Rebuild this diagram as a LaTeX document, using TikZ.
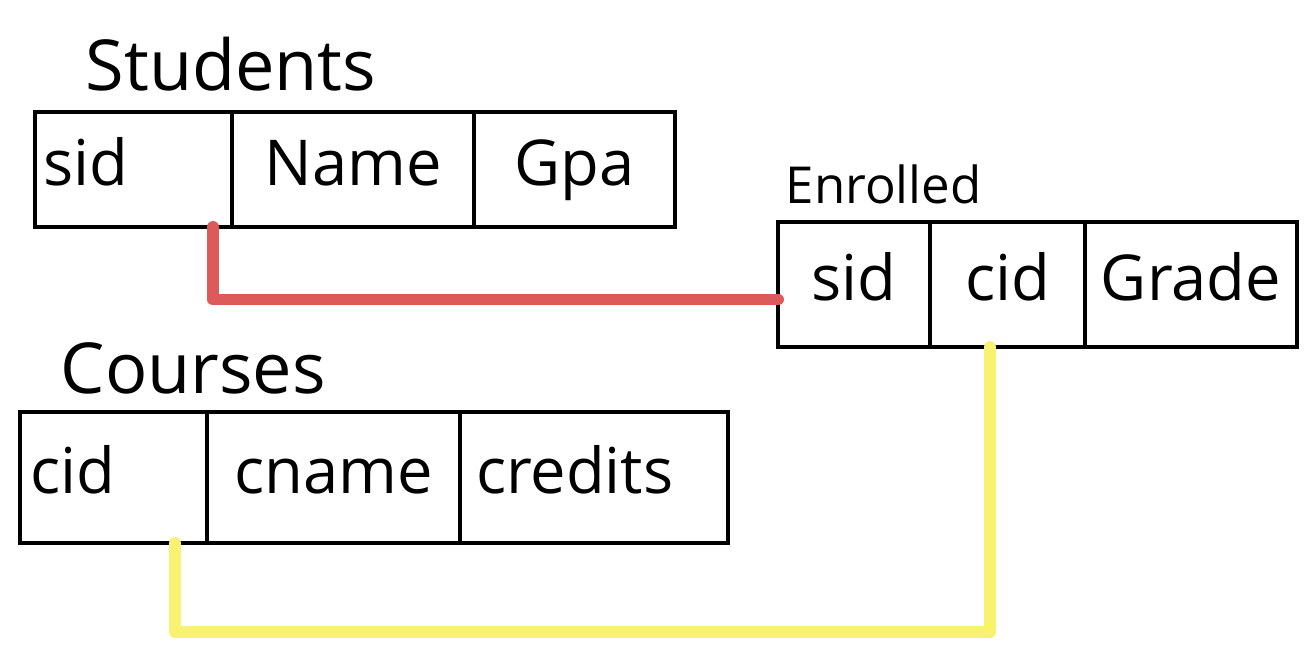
\documentclass[tikz,border=0pt]{standalone}
\usepackage{fontspec}
\setmainfont{Open Sans}
\usetikzlibrary{positioning}
\definecolor{fkred}{HTML}{DD5A5A}
\definecolor{fkyellow}{HTML}{F8F171}

\begin{document}
\begin{tikzpicture}
    [
    node distance=0pt,
    cell/.style={draw, line width=1.2pt, outer sep=0pt, inner sep=0pt,
        text height=2.05ex, text depth=0.3ex, font=\fontsize{18}{20}\selectfont},
    left cell/.style={cell, align=left, text width=#1},
    title/.style={inner sep=0pt, font=\fontsize{20}{22}\selectfont},
    fk red/.style={draw=fkred, line width=3.4pt, line cap=round, line join=round},
    fk yellow/.style={draw=fkyellow, line width=3.4pt, line cap=round, line join=round},
    ]
    \useasboundingbox (0,0) rectangle (13.08,-6.54);

    % Students
    \node[left cell=1.81cm, minimum width=1.97cm, minimum height=1.15cm] (s_sid) at (1.335,-1.695) {sid};
    \node[cell, minimum width=2.42cm, minimum height=1.15cm, right = of s_sid] (s_name) {Name};
    \node[cell, minimum width=2.01cm, minimum height=1.15cm, right = of s_name] (s_gpa) {Gpa};
    \node[title, above right = 0.2cm and 0.5cm of s_sid.north west] (t_students) {Students};

    % Enrolled
    \node[cell, minimum width=1.52cm, minimum height=1.25cm] (e_sid) at (8.54,-2.845) {sid};
    \node[cell, minimum width=1.55cm, minimum height=1.25cm, right = of e_sid] (e_cid) {cid};
    \node[cell, minimum width=2.12cm, minimum height=1.25cm, right = of e_cid] (e_grade) {Grade};
    \node[title, font=\fontsize{14.5}{16}\selectfont, above right = 0.17cm and 0.07cm of e_sid.north west] (t_enrolled) {Enrolled};

    % Courses
    \node[left cell=1.67cm, minimum width=1.87cm, minimum height=1.31cm] (c_cid) at (1.135,-4.775) {cid};
    \node[cell, minimum width=2.53cm, minimum height=1.31cm, right = of c_cid] (c_cname) {cname};
    \node[left cell=2.36cm, minimum width=2.68cm, minimum height=1.31cm, right = of c_cname] (c_credits) {credits};
    \node[title, above right = 0.17cm and 0.4cm of c_cid.north west] (t_courses) {Courses};

    % foreign keys
    \draw[fk red] ([xshift=-0.19cm]s_sid.south east) |- ([yshift=-0.15cm]e_sid.west);
    \draw[fk yellow] ([xshift=-0.175cm]e_cid.south) -- ++(0,-2.85) -| ([xshift=0.615cm]c_cid.south);
\end{tikzpicture}
\end{document}
